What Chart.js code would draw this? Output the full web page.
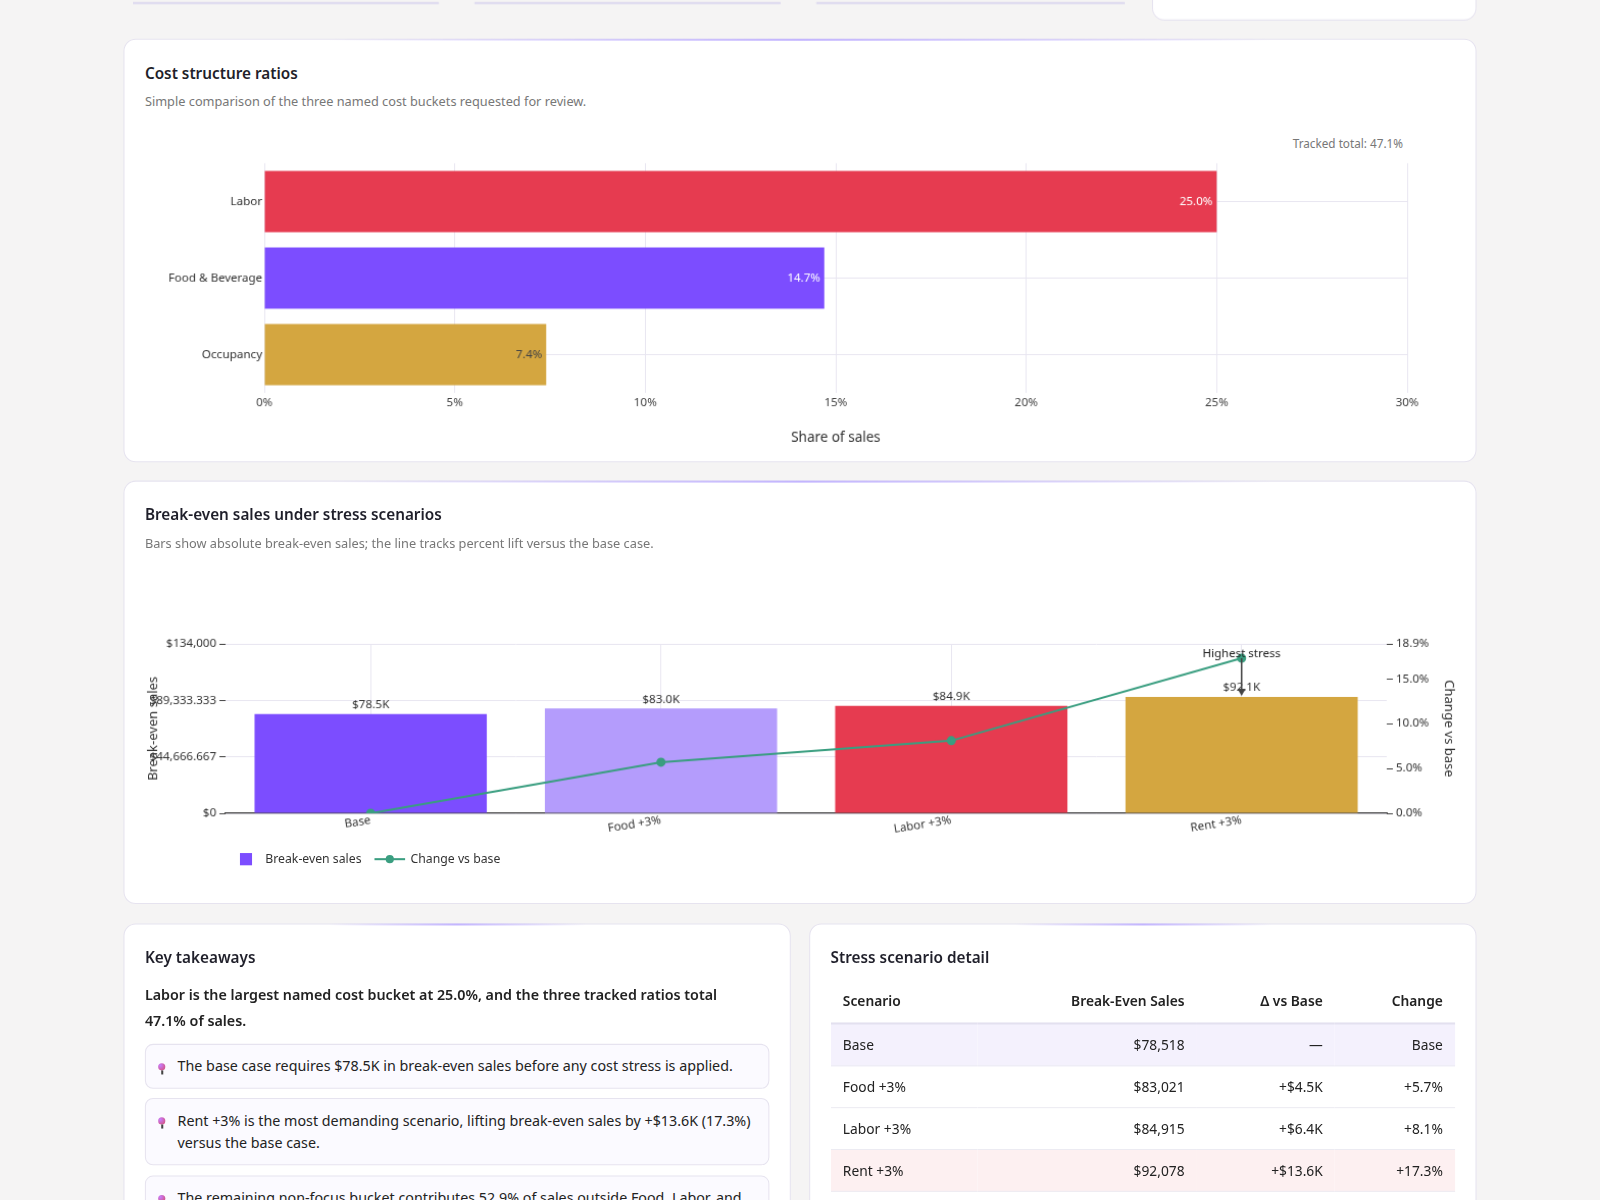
<!DOCTYPE html>
<html><head><meta charset="utf-8">
<script src="https://cdn.jsdelivr.net/npm/chart.js@4.4.1/dist/chart.umd.min.js"></script>
<style>
html,body{margin:0;padding:0;background:#f5f4f4;overflow:hidden;}
body{width:1600px;height:1200px;font-family:"Noto Sans","Open Sans",sans-serif;color:#222;}
#root{position:absolute;left:0;top:0;width:1568px;height:1176px;transform:scale(1.0204);transform-origin:0 0;}
.card{position:absolute;background:#fff;border:1px solid #e6e3ef;border-radius:12px;box-sizing:border-box;}
.card .topline{position:absolute;left:200px;right:200px;top:-1px;height:2px;background:linear-gradient(90deg,rgba(200,190,255,0),rgba(190,175,255,.9),rgba(200,190,255,0));}
.title{position:absolute;left:20px;top:22px;font-size:15px;font-weight:600;color:#1f1f2a;}
.sub{position:absolute;left:20px;top:52px;font-size:12.5px;color:#777;}
.stub{position:absolute;top:-10px;height:12px;border-bottom:2px solid #dcd8ee;}
table{border-collapse:collapse;width:100%;font-size:13.5px;}
th{font-weight:600;height:43px;text-align:right;padding:0 12px;border-bottom:2px solid #e3e0ef;}
td{height:40px;text-align:right;padding:0 12px;border-bottom:1px solid #ecebf2;}
th:first-child,td:first-child{text-align:left;}
.tk{position:absolute;left:20px;right:20px;border:1px solid #e6e3ef;border-radius:8px;background:#fbfaff;font-size:14px;padding:10px 14px 10px 31px;line-height:22px;box-sizing:border-box;}
.tk:before{content:"";position:absolute;left:12px;top:18px;width:7px;height:7px;border-radius:50%;background:radial-gradient(circle at 30% 30%,#c77dff,#d64a6a);}
.tk:after{content:"";position:absolute;left:15px;top:25px;width:1.5px;height:4px;background:#444;}
</style></head>
<body><div id="root">
<div class="stub" style="left:130px;width:300px"></div>
<div class="stub" style="left:465px;width:300px"></div>
<div class="stub" style="left:800px;width:302px"></div>
<div class="card" style="left:1129px;top:-20px;width:318px;height:40px;"></div>

<div class="card" style="left:121px;top:38px;width:1326px;height:415px;">
  <div class="topline"></div>
  <div class="title">Cost structure ratios</div>
  <div class="sub">Simple comparison of the three named cost buckets requested for review.</div>
  <div style="position:absolute;right:71px;top:94px;font-size:11.5px;color:#777;">Tracked total: 47.1%</div>
  <div style="position:absolute;left:20px;top:112px;width:1286px;height:290px;"><canvas id="c1"></canvas></div>
</div>

<div class="card" style="left:121px;top:471px;width:1326px;height:415px;">
  <div class="topline"></div>
  <div class="title">Break-even sales under stress scenarios</div>
  <div class="sub">Bars show absolute break-even sales; the line tracks percent lift versus the base case.</div>
  <div style="position:absolute;left:20px;top:89px;width:1286px;height:270px;"><canvas id="c2"></canvas></div>
  <div style="position:absolute;left:113px;top:361px;font-size:12px;color:#333;display:flex;align-items:center;">
    <span style="display:inline-block;width:12px;height:12px;background:#7c4dff;margin-right:13px"></span>Break-even sales
    <span style="display:inline-block;position:relative;width:30px;height:2px;background:#3a9e80;margin:0 5px 0 13px"><span style="position:absolute;left:11px;top:-3px;width:8px;height:8px;border-radius:50%;background:#3a9e80"></span></span>Change vs base
  </div>
</div>

<div class="card" style="left:121px;top:905px;width:654px;height:300px;">
  <div class="topline"></div>
  <div class="title">Key takeaways</div>
  <div style="position:absolute;left:20px;right:40px;top:56px;font-size:14px;font-weight:600;line-height:25px;">Labor is the largest named cost bucket at 25.0%, and the three tracked ratios total 47.1% of sales.</div>
  <div class="tk" style="top:117px;">The base case requires $78.5K in break-even sales before any cost stress is applied.</div>
  <div class="tk" style="top:170px;">Rent +3% is the most demanding scenario, lifting break-even sales by +$13.6K (17.3%) versus the base case.</div>
  <div class="tk" style="top:246px;">The remaining non-focus bucket contributes 52.9% of sales outside Food, Labor, and</div>
</div>

<div class="card" style="left:793px;top:905px;width:654px;height:300px;">
  <div class="topline"></div>
  <div class="title">Stress scenario detail</div>
  <div style="position:absolute;left:20px;right:20px;top:53px;">
    <table id="tbl"><thead><tr><th>Scenario</th><th>Break-Even Sales</th><th>Δ vs Base</th><th>Change</th></tr></thead><tbody></tbody></table>
  </div>
</div>
</div>
<script>
const costCats=["Labor","Food & Beverage","Occupancy"];
const costVals=[25.0,14.7,7.4];
const costColors=["#e63b50","#7c4dff","#d4a640"];
const scen=["Base","Food +3%","Labor +3%","Rent +3%"];
const beSales=[78518,83021,84915,92078];
const chgPct=[0,5.7,8.1,17.3];
const deltaLbl=["—","+$4.5K","+$6.4K","+$13.6K"];
const chgLbl=["Base","+5.7%","+8.1%","+17.3%"];
const scenColors=["#7c4dff","#b49cfc","#e63b50","#d4a640"];
const F="'Noto Sans','Open Sans',sans-serif";
Chart.defaults.font.family=F;Chart.defaults.color="#444";Chart.defaults.animation=false;
const GRID="#e8e6f1";

const tb=document.querySelector('#tbl tbody');
scen.forEach((s,i)=>{const tr=document.createElement('tr');
 if(i==0)tr.style.background="#f4f1fd";if(i==3)tr.style.background="#fdf0f1";
 tr.innerHTML=`<td>${s}</td><td>$${beSales[i].toLocaleString('en-US')}</td><td>${deltaLbl[i]}</td><td>${chgLbl[i]}</td>`;tb.appendChild(tr);});

new Chart(document.getElementById('c1'),{type:'bar',
 data:{labels:costCats,datasets:[{data:costVals,backgroundColor:costColors,barPercentage:0.8,categoryPercentage:1}]},
 options:{indexAxis:'y',responsive:true,maintainAspectRatio:false,layout:{padding:{top:8,right:49}},
  plugins:{legend:{display:false},tooltip:{enabled:false}},
  scales:{x:{min:0,max:30,ticks:{stepSize:5,callback:v=>v+'%',font:{size:11.5},color:'#444'},grid:{color:GRID,drawTicks:false},border:{display:false},
     title:{display:true,text:'Share of sales',font:{size:13.5},color:'#333',padding:{top:12}},afterFit:s=>{s.height=56}},
   y:{ticks:{font:{size:11.5},color:'#333',padding:2},grid:{color:GRID,offset:false,drawTicks:false},border:{display:false},afterFit:s=>{s.width=117}}}},
 plugins:[{id:'lbl',afterDatasetsDraw(c){const ctx=c.ctx;const m=c.getDatasetMeta(0);ctx.save();ctx.font="11.5px "+F;ctx.textAlign='right';ctx.textBaseline='middle';
   m.data.forEach((b,i)=>{ctx.fillStyle=i==2?'#444':'#fff';ctx.fillText(costVals[i].toFixed(1)+'%',b.x-4,b.y);});ctx.restore();}}]
});

new Chart(document.getElementById('c2'),{
 data:{labels:scen,datasets:[
  {type:'line',data:chgPct,yAxisID:'y2',borderColor:'#3a9e80',backgroundColor:'#3a9e80',borderWidth:2,pointRadius:3.5,order:0},
  {type:'bar',data:beSales,yAxisID:'y',backgroundColor:scenColors,barPercentage:0.8,categoryPercentage:1,order:1}]},
 options:{responsive:true,maintainAspectRatio:false,layout:{padding:{top:70,right:0}},
  plugins:{legend:{display:false},tooltip:{enabled:false}},
  scales:{x:{ticks:{minRotation:9,maxRotation:9,font:{size:11.5},color:'#333',padding:0},grid:{color:GRID,offset:false,drawTicks:false},border:{color:'#444',width:1.2},afterFit:s=>{s.height=34}},
   y:{position:'left',min:0,max:134000,ticks:{stepSize:50000,callback:v=>'$'+v.toLocaleString('en-US'),font:{size:11.5},color:'#333'},grid:{color:GRID,tickLength:6,tickColor:'#444'},border:{display:false},
     title:{display:true,text:'Break-even sales',font:{size:13},color:'#333',padding:0},afterFit:s=>{s.width=79}},
   y2:{position:'right',min:0,max:18.9,ticks:{stepSize:5,callback:v=>v.toFixed(1)+'%',font:{size:11.5},color:'#333'},grid:{drawOnChartArea:false,tickLength:6,tickColor:'#444'},border:{display:false},
     title:{display:true,text:'Change vs base',font:{size:13},color:'#333',padding:0},afterFit:s=>{s.width=69}}}},
 plugins:[{id:'lbl2',afterDatasetsDraw(c){const ctx=c.ctx;const m=c.getDatasetMeta(1);ctx.save();ctx.font="11.5px "+F;ctx.textAlign='center';ctx.textBaseline='bottom';ctx.fillStyle='#333';
   m.data.forEach((b,i)=>{ctx.fillText('$'+(beSales[i]/1000).toFixed(1)+'K',b.x,b.y-3);});
   const p=c.getDatasetMeta(0).data[3];const bb=m.data[3];
   ctx.strokeStyle='#444';ctx.fillStyle='#444';ctx.lineWidth=1.5;ctx.beginPath();ctx.moveTo(p.x,p.y);ctx.lineTo(p.x,bb.y-3);ctx.stroke();
   ctx.beginPath();ctx.moveTo(p.x-4,bb.y-8);ctx.lineTo(p.x+4,bb.y-8);ctx.lineTo(p.x,bb.y-1);ctx.fill();
   ctx.fillStyle='#222';ctx.textBaseline='bottom';ctx.fillText('Highest stress',p.x,p.y+1);ctx.restore();}}]
});
</script></body></html>
